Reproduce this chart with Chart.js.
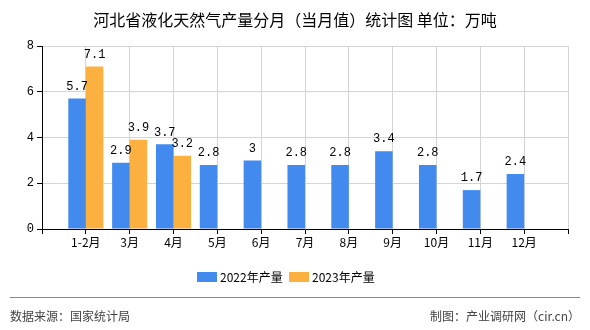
<!DOCTYPE html>
<html>
<head>
<meta charset="utf-8">
<script src="https://cdn.jsdelivr.net/npm/chart.js@4"></script>
<style>
  html, body { margin: 0; padding: 0; background: #fff; }
  #wrap { width: 590px; height: 330px; position: relative; }
</style>
</head>
<body>
<div id="wrap"><canvas id="chart" width="590" height="330"></canvas></div>
<script>
// data
const categories = ['1-2月', '3月', '4月', '5月', '6月', '7月', '8月', '9月', '10月', '11月', '12月'];
const output2022 = [5.7, 2.9, 3.7, 2.8, 3, 2.8, 2.8, 3.4, 2.8, 1.7, 2.4];
const output2023 = [7.1, 3.9, 3.2, null, null, null, null, null, null, null, null];
const seriesNames = ['2022年产量', '2023年产量'];
const yTicks = [0, 2, 4, 6, 8];

const titleText = '河北省液化天然气产量分月（当月值）统计图 单位：万吨';
const sourceText = '数据来源：国家统计局';
const makerText = '制图：产业调研网（cir.cn）';

const BLUE = '#428aed';
const ORANGE = '#fbb040';
const CJK = '"Noto Sans CJK SC", "Noto Sans", sans-serif';

// pad the axis with an empty slot on each side, like the original
const labels = [''].concat(categories, ['']);
const pad = arr => [null].concat(arr, [null]);

// value labels above the bars
const valueLabels = {
  id: 'valueLabels',
  afterDatasetsDraw(chart) {
    const ctx = chart.ctx;
    ctx.save();
    ctx.font = '12px "Liberation Mono", "DejaVu Sans Mono", monospace';
    ctx.fillStyle = '#000';
    ctx.textAlign = 'center';
    ctx.textBaseline = 'bottom';
    chart.data.datasets.forEach((ds, i) => {
      chart.getDatasetMeta(i).data.forEach((bar, j) => {
        const v = ds.data[j];
        if (v == null) return;
        ctx.fillText(String(v), bar.x, bar.y - 6);
      });
    });
    ctx.restore();
  }
};

// title, legend, footer
const decorations = {
  id: 'decorations',
  afterDraw(chart) {
    const ctx = chart.ctx;
    ctx.save();
    ctx.fillStyle = '#000';
    ctx.font = '16px ' + CJK;
    ctx.textAlign = 'center';
    ctx.textBaseline = 'middle';
    ctx.fillText(titleText, 295, 20);

    // legend
    ctx.font = '12px ' + CJK;
    ctx.textAlign = 'left';
    const items = [
      { x: 197, color: BLUE, text: seriesNames[0] },
      { x: 289, color: ORANGE, text: seriesNames[1] }
    ];
    items.forEach(it => {
      ctx.fillStyle = it.color;
      ctx.fillRect(it.x, 272, 20, 10);
      ctx.fillStyle = '#000';
      ctx.fillText(it.text, it.x + 23, 277);
    });

    // separator
    ctx.strokeStyle = '#888';
    ctx.lineWidth = 1;
    ctx.beginPath();
    ctx.moveTo(10, 297.5);
    ctx.lineTo(580, 297.5);
    ctx.stroke();

    ctx.fillStyle = '#444';
    ctx.font = '12px ' + CJK;
    ctx.textAlign = 'left';
    ctx.fillText(sourceText, 10, 316);
    ctx.textAlign = 'right';
    ctx.fillText(makerText, 580, 316);
    ctx.restore();
  }
};

const ctx = document.getElementById('chart').getContext('2d');
const chart = new Chart(ctx, {
  type: 'bar',
  data: {
    labels: labels,
    datasets: [
      { label: seriesNames[0], data: pad(output2022), backgroundColor: BLUE },
      { label: seriesNames[1], data: pad(output2023), backgroundColor: ORANGE }
    ]
  },
  options: {
    responsive: false,
    animation: false,
    layout: { padding: { top: 46, right: 22, bottom: 81, left: 0 } },
    plugins: { legend: { display: false }, title: { display: false }, tooltip: { enabled: false } },
    datasets: { bar: { categoryPercentage: 0.8, barPercentage: 1.0 } },
    scales: {
      x: {
        offset: false,
        grid: { color: '#d4d4d4', tickColor: '#000', tickLength: 5, offset: false },
        border: { color: '#000', width: 1 },
        ticks: {
          color: '#000',
          font: { size: 12, family: CJK },
          padding: 1,
          maxRotation: 0,
          autoSkip: false
        },
        afterFit(scale) { scale.height = 20; }
      },
      y: {
        min: 0,
        max: 8,
        grid: { color: '#d4d4d4', tickColor: '#000', tickLength: 5 },
        border: { color: '#000', width: 1 },
        ticks: {
          color: '#000',
          font: { size: 12, family: '"Liberation Mono", monospace' },
          padding: 3,
          stepSize: 2,
          callback: v => yTicks.includes(v) ? String(v) : ''
        },
        afterFit(scale) { scale.width = 42; }
      }
    }
  },
  plugins: [valueLabels, decorations]
});
</script>
</body>
</html>
